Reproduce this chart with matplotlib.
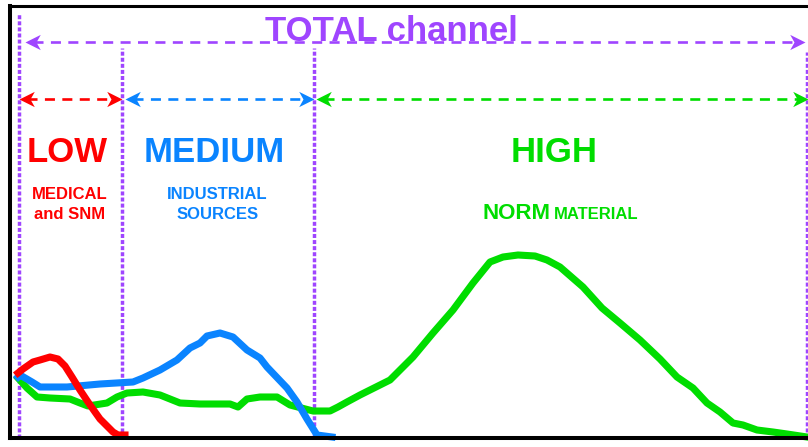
import numpy as np
import matplotlib.pyplot as plt
from matplotlib.path import Path

# spectra (channel, counts)
low_x = [8, 13, 23, 30, 40, 48, 55, 62, 70, 78, 85, 90, 97, 103, 108, 115]
low_y = [65, 69, 76, 78, 81, 79, 72, 61, 48, 36, 26, 19, 12, 6, 3, 3]

med_x = [8, 10, 22, 30, 57, 90, 123, 133, 150, 167, 180, 190, 197, 210, 223,
         237, 250, 257, 277, 287, 297, 307, 322]
med_y = [61, 63, 56, 51, 51, 54, 56, 60, 68, 78, 90, 95, 102, 105, 101,
         88, 80, 71, 50, 36, 19, 3, 1]

high_x = [8, 17, 27, 40, 60, 70, 78, 97, 107, 117, 133, 150, 170, 190, 220, 228,
          237, 250, 267, 280, 303, 320, 328, 337, 350, 380, 390, 403, 423, 443,
          463, 480, 493, 508, 525, 537, 550, 573, 592, 610, 630, 650, 667, 683,
          697, 710, 723, 733, 747, 763, 777, 797]
high_y = [60, 50, 41, 40, 39, 35, 32, 35, 41, 45, 46, 43, 35, 34, 34, 31,
          39, 41, 41, 33, 27, 27, 31, 36, 43, 58, 68, 81, 105, 128,
          155, 176, 181, 183, 182, 178, 171, 151, 130, 115, 98, 79, 61, 50,
          35, 26, 15, 13, 8, 6, 4, 1]

# region borders and arrow spans
borders = [9, 112, 304, 797]
border_tops = [424, 390, 390, 386]
total_span = (15, 795)
region_spans = [(9, 112), (115, 304), (306, 798)]

RED = '#FF0000'
BLUE = '#0A84FF'
GREEN = '#00DD00'
PURPLE = '#9F45FF'

plt.rcParams['font.family'] = ['Liberation Sans', 'DejaVu Sans']

fig = plt.figure(figsize=(8.08, 4.47), dpi=100)
ax = fig.add_axes([10 / 808, 9 / 447, 798 / 808, 432.5 / 447])
ax.set_xlim(0, 798)
ax.set_ylim(0, 432.5)
ax.set_xticks([])
ax.set_yticks([])
ax.spines['right'].set_visible(False)
ax.spines['left'].set_linewidth(2.9)
ax.spines['bottom'].set_linewidth(2.9)
ax.spines['top'].set_linewidth(2.2)

# arrow head marker (swept back), tip at origin
head_r = Path([(0, 0), (-1, 0.5), (-0.72, 0), (-1, -0.5), (0, 0)],
              [Path.MOVETO, Path.LINETO, Path.LINETO, Path.LINETO, Path.CLOSEPOLY])
head_l = Path([(0, 0), (1, 0.5), (0.72, 0), (1, -0.5), (0, 0)],
              [Path.MOVETO, Path.LINETO, Path.LINETO, Path.LINETO, Path.CLOSEPOLY])


def span_arrow(x0, x1, y, color):
    ax.plot([x0 + 8, x1 - 8], [y, y], color=color, lw=1.9,
            dashes=(3.8, 2.8), clip_on=False)
    ax.plot([x0], [y], marker=head_l, ms=22, color=color, mew=0, clip_on=False)
    ax.plot([x1], [y], marker=head_r, ms=22, color=color, mew=0, clip_on=False)


for bx, bt in zip(borders, border_tops):
    ax.plot([bx, bx], [0, bt], color=PURPLE, lw=2.5, dashes=(1.15, 0.6),
            solid_capstyle='butt', clip_on=False)

span_arrow(total_span[0], total_span[1], 396, PURPLE)
for (a, b), c in zip(region_spans, [RED, BLUE, GREEN]):
    span_arrow(a, b, 339, c)

ax.plot(high_x, high_y, color=GREEN, lw=5.1, clip_on=False, solid_joinstyle='round')
ax.plot(med_x, med_y, color=BLUE, lw=5.1, clip_on=False, solid_joinstyle='round')
ax.plot(low_x, low_y, color=RED, lw=5.1, clip_on=False, solid_joinstyle='round')

ax.text(381, 397, 'TOTAL channel', color=PURPLE, fontsize=25, fontweight='bold',
        ha='center', va='baseline')
ax.text(57.5, 276, 'LOW', color=RED, fontsize=25, fontweight='bold', ha='center', va='baseline')
ax.text(204, 276, 'MEDIUM', color=BLUE, fontsize=25, fontweight='bold', ha='center', va='baseline')
ax.text(544, 276, 'HIGH', color=GREEN, fontsize=25, fontweight='bold', ha='center', va='baseline')

ax.text(59.5, 239, 'MEDICAL', color=RED, fontsize=12, fontweight='bold', ha='center', va='baseline')
ax.text(59.5, 219, 'and SNM', color=RED, fontsize=12, fontweight='bold', ha='center', va='baseline')
ax.text(207.5, 239, 'INDUSTRIAL', color=BLUE, fontsize=12, fontweight='bold', ha='center', va='baseline')
ax.text(207.5, 219, 'SOURCES', color=BLUE, fontsize=12, fontweight='bold', ha='center', va='baseline')
ax.text(472, 219, 'NORM', color=GREEN, fontsize=16, fontweight='bold', ha='left', va='baseline')
ax.text(544, 219, 'MATERIAL', color=GREEN, fontsize=12, fontweight='bold', ha='left', va='baseline')

fig.savefig('out.png', dpi=100)
